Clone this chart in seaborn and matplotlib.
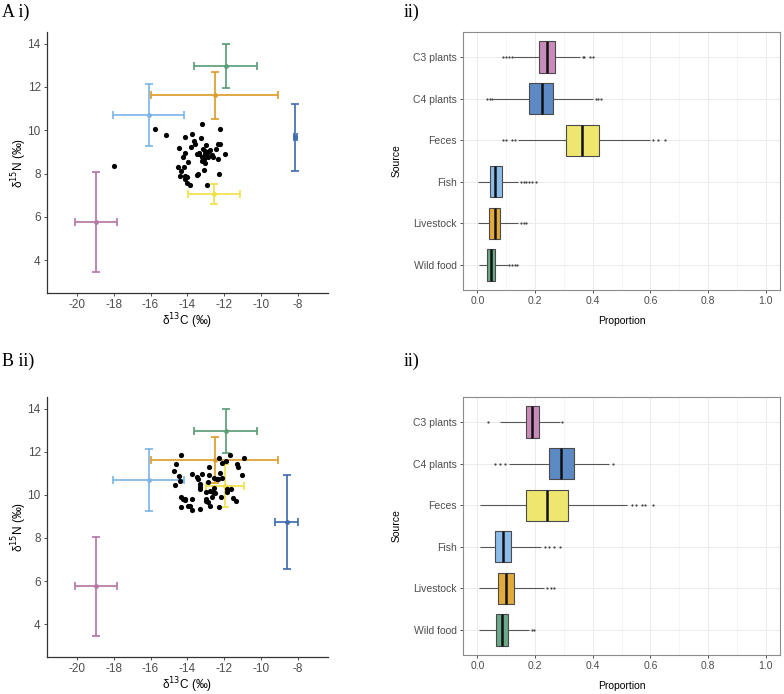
import numpy as np
import pandas as pd
import matplotlib
matplotlib.use("Agg")
import matplotlib.pyplot as plt
from matplotlib.ticker import MultipleLocator
import seaborn as sns

sns.set_theme(style="white")
plt.rcParams['font.family'] = ['Liberation Sans', 'DejaVu Sans']

# ---------------- data ----------------
sources = ["C3 plants", "C4 plants", "Feces", "Fish", "Livestock", "Wild food"]
colors = ["#C98BBA", "#5B8AC4", "#EEE66E", "#8CBDEA", "#E0AA3E", "#6AAA88"]
err_colors = ["#B677A6", "#3F6EAE", "#EEE24A", "#7DB5E8", "#DB9E2A", "#5A9E78"]

# source isotope means and SDs (panel A)
A_src_c = [-18.98, -8.13, -12.55, -16.10, -12.52, -11.92]
A_src_csd = [1.15, 0.08, 1.42, 1.92, 3.47, 1.71]
A_src_n = [5.76, 9.68, 7.05, 10.70, 11.61, 12.96]
A_src_nsd = [2.30, 1.54, 0.45, 1.44, 1.07, 1.02]
# panel B
B_src_c = [-18.98, -8.59, -11.94, -16.10, -12.52, -11.92]
B_src_csd = [1.15, 0.62, 1.02, 1.92, 3.47, 1.71]
B_src_n = [5.76, 8.72, 10.43, 10.70, 11.61, 12.96]
B_src_nsd = [2.30, 2.18, 0.98, 1.44, 1.07, 1.02]

# consumers
A_c = [-17.99, -15.74, -15.14, -13.22, -12.21, -14.15, -13.77, -13.28, -13.62, -13.58,
       -14.47, -13.82, -14.13, -14.25, -13.96, -14.53, -14.20, -14.33, -14.40, -14.13,
       -14.02, -14.13, -14.00, -13.87, -13.46, -13.42, -13.09, -12.95, -12.28, -13.37,
       -13.34, -13.21, -13.22, -13.09, -13.02, -12.97, -12.90, -12.79, -13.02, -12.88,
       -12.66, -12.60, -12.46, -12.33, -12.24, -12.31, -11.93, -13.06, -13.49, -13.15]
A_n = [8.35, 10.05, 9.77, 10.29, 10.06, 9.69, 9.82, 9.66, 9.51, 9.38,
       9.18, 9.22, 8.94, 8.75, 8.54, 8.28, 8.31, 8.11, 7.89, 7.89,
       7.86, 7.75, 7.58, 7.45, 7.92, 7.97, 8.15, 7.45, 7.98, 8.97,
       8.88, 8.77, 8.57, 8.68, 8.91, 9.31, 9.00, 9.11, 9.03, 8.78,
       8.85, 8.77, 9.15, 9.35, 9.35, 8.65, 8.92, 8.49, 8.92, 9.15]
B_c = [-14.32, -14.59, -14.75, -14.46, -14.39, -14.68, -13.74, -13.50, -13.43, -13.20,
       -13.31, -13.29, -13.31, -12.81, -12.80, -12.87, -12.56, -12.29, -12.14, -11.69,
       -11.92, -12.23, -12.12, -12.40, -12.31, -11.32, -11.25, -10.93, -11.02, -12.54,
       -11.85, -11.62, -11.85, -12.96, -12.74, -12.58, -12.47, -12.65, -12.18, -11.51,
       -11.35, -13.01, -12.96, -12.89, -12.76, -12.29, -14.36, -14.26, -14.14, -14.12,
       -14.36, -13.99, -13.85, -13.72, -13.31, -13.72]
B_n = [11.87, 11.44, 11.13, 10.89, 10.63, 10.46, 10.96, 10.84, 10.75, 10.96,
       10.49, 10.38, 10.26, 10.93, 11.27, 10.58, 10.76, 11.72, 11.49, 11.83,
       11.57, 11.03, 10.80, 10.72, 10.72, 11.44, 11.30, 11.69, 10.90, 10.32,
       10.29, 10.27, 10.15, 10.15, 10.18, 10.15, 10.10, 9.92, 9.89, 9.84,
       9.73, 9.82, 9.73, 9.69, 9.49, 9.44, 9.92, 9.82, 9.81, 9.75,
       9.44, 9.49, 9.49, 9.30, 9.33, 9.81]

# box summaries: whisker low, q1, median, q3, whisker high
A_lo = [0.125, 0.055, 0.140, 0.003, 0.003, 0.005]
A_q1 = [0.212, 0.180, 0.306, 0.044, 0.040, 0.033]
A_med = [0.240, 0.223, 0.364, 0.061, 0.060, 0.047]
A_q3 = [0.268, 0.264, 0.421, 0.085, 0.080, 0.062]
A_hi = [0.355, 0.400, 0.600, 0.140, 0.140, 0.105]
A_out = [[0.09, 0.10, 0.11, 0.12, 0.365, 0.37, 0.39, 0.40],
         [0.035, 0.045, 0.05, 0.41, 0.42, 0.43],
         [0.09, 0.10, 0.12, 0.13, 0.61, 0.625, 0.65],
         [0.15, 0.16, 0.17, 0.18, 0.19, 0.205],
         [0.15, 0.16, 0.17],
         [0.11, 0.12, 0.13, 0.137]]

B_lo = [0.080, 0.110, 0.010, 0.009, 0.006, 0.006]
B_q1 = [0.170, 0.249, 0.170, 0.062, 0.071, 0.065]
B_med = [0.191, 0.291, 0.243, 0.090, 0.099, 0.085]
B_q3 = [0.213, 0.334, 0.315, 0.116, 0.127, 0.106]
B_hi = [0.285, 0.458, 0.520, 0.220, 0.230, 0.180]
B_out = [[0.038, 0.295],
         [0.06, 0.08, 0.095, 0.47],
         [0.535, 0.55, 0.57, 0.58, 0.61],
         [0.235, 0.25, 0.265, 0.285],
         [0.24, 0.255, 0.265],
         [0.19, 0.198]]

x_ticks = [-20, -18, -16, -14, -12, -10, -8]
y_ticks = [4, 6, 8, 10, 12, 14]
p_ticks = [0.0, 0.2, 0.4, 0.6, 0.8, 1.0]

# ---------------- figure ----------------
W, H = 784, 694
fig = plt.figure(figsize=(W / 100, H / 100), dpi=100)
fig.patch.set_facecolor("white")


def frac(left, top, right, bottom):
    return [left / W, 1 - bottom / H, (right - left) / W, (bottom - top) / H]


TICK_C = "#4D4D4D"
FS = 8.5
FSB = 7.5


def scatter_panel(rect, cons_c, cons_n, sc, scsd, sn, snsd):
    ax = fig.add_axes(rect)
    for i in range(len(sources)):
        ax.errorbar(sc[i], sn[i], xerr=scsd[i], yerr=snsd[i], fmt="o", ms=2.5,
                    color=err_colors[i], ecolor=err_colors[i], elinewidth=1.3,
                    capsize=3, capthick=1.3, zorder=2, alpha=0.95)
    sns.scatterplot(x=cons_c, y=cons_n, color="black", s=14, linewidth=0, ax=ax, zorder=3)
    ax.set_xlim(-21.63, -6.35)
    ax.set_ylim(2.48, 14.54)
    ax.set_xticks(x_ticks)
    ax.set_yticks(y_ticks)
    ax.set_xticklabels([str(t) for t in x_ticks])
    for s in ["top", "right"]:
        ax.spines[s].set_visible(False)
    for s in ["left", "bottom"]:
        ax.spines[s].set_color("#333333")
        ax.spines[s].set_linewidth(0.9)
    ax.tick_params(axis="both", length=2.5, width=0.6, color="#333333",
                   labelcolor=TICK_C, labelsize=FS, pad=2, bottom=True, left=True)
    ax.set_xlabel("δ$^{13}$C (‰)", fontsize=FS, color="black", labelpad=0)
    ax.set_ylabel("δ$^{15}$N (‰)", fontsize=FS, color="black", labelpad=-1)
    ax.grid(False)
    return ax


def box_panel(rect, lo, q1, med, q3, hi, outs):
    ax = fig.add_axes(rect)
    rows = []
    for i, s in enumerate(sources):
        for v in (lo[i], q1[i], med[i], q3[i], hi[i]):
            rows.append((s, v))
    df = pd.DataFrame(rows, columns=["Source", "Proportion"])
    sns.boxplot(data=df, x="Proportion", y="Source", order=sources, hue="Source",
                hue_order=sources, palette=dict(zip(sources, colors)), legend=False,
                saturation=1, whis=(0, 100), width=0.75, showcaps=False,
                showfliers=False, linewidth=0.8, linecolor="#4A4A4A",
                medianprops=dict(color="#111111", linewidth=1.8),
                whiskerprops=dict(color="#555555", linewidth=0.8),
                ax=ax)
    orows = [(s, v) for i, s in enumerate(sources) for v in outs[i]]
    odf = pd.DataFrame(orows, columns=["Source", "Proportion"])
    sns.stripplot(data=odf, x="Proportion", y="Source", order=sources, jitter=False,
                  color="#444444", size=1.6, linewidth=0, ax=ax, zorder=3)
    ax.set_xlim(-0.05, 1.05)
    ax.set_ylim(5.6, -0.6)
    ax.set_xticks(p_ticks)
    ax.set_xticklabels(["0.0", "0.2", "0.4", "0.6", "0.8", "1.0"])
    ax.xaxis.set_minor_locator(MultipleLocator(0.1))
    ax.set_axisbelow(True)
    ax.grid(True, which="major", color="#EBEBEB", linewidth=0.7)
    ax.grid(True, which="minor", axis="x", color="#F2F2F2", linewidth=0.5)
    for s in ax.spines.values():
        s.set_visible(True)
        s.set_color("#8C8C8C")
        s.set_linewidth(0.8)
    ax.tick_params(axis="both", which="major", length=2.5, width=0.6, color="#333333",
                   labelcolor=TICK_C, labelsize=FSB, pad=2, bottom=True, left=True)
    ax.tick_params(axis="x", which="minor", length=0)
    ax.set_xlabel("Proportion", fontsize=FSB, color="black", labelpad=7)
    ax.set_ylabel("Source", fontsize=FSB, color="black", labelpad=8)
    return ax


scatter_panel(frac(47, 32, 328, 293), A_c, A_n, A_src_c, A_src_csd, A_src_n, A_src_nsd)
scatter_panel(frac(47, 397, 328, 657), B_c, B_n, B_src_c, B_src_csd, B_src_n, B_src_nsd)
box_panel(frac(463, 32, 780, 290), A_lo, A_q1, A_med, A_q3, A_hi, A_out)
box_panel(frac(463, 397, 780, 655), B_lo, B_q1, B_med, B_q3, B_hi, B_out)

lab_kw = dict(fontsize=13, family=["Liberation Serif", "DejaVu Serif"], color="black",
              va="top", ha="left")
fig.text(2 / W, 1 - 4 / H, "A i)", **lab_kw)
fig.text(404 / W, 1 - 4 / H, "ii)", **lab_kw)
fig.text(2 / W, 1 - 353 / H, "B ii)", **lab_kw)
fig.text(404 / W, 1 - 353 / H, "ii)", **lab_kw)

fig.savefig("out.png", dpi=100, facecolor="white")
